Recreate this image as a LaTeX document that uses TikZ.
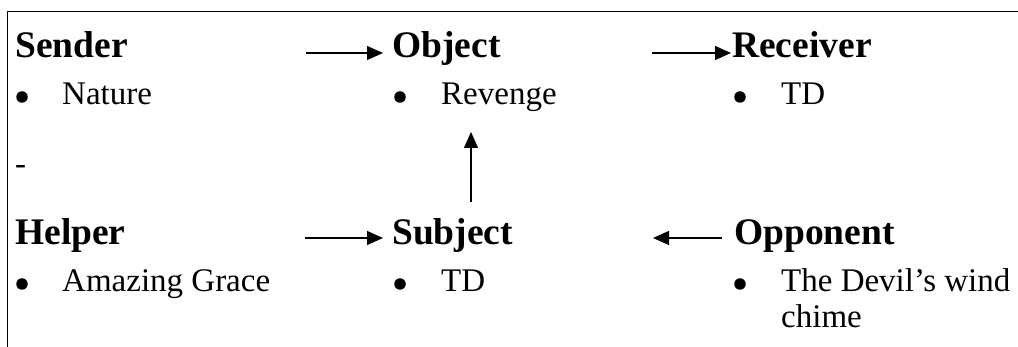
\documentclass[tikz,border=0pt]{standalone}
\usepackage{fontspec}
\setmainfont{Liberation Serif}
\usetikzlibrary{arrows.meta}

\begin{document}
\begin{tikzpicture}[x=1pt,y=-1pt,
        titulo/.style={anchor=base west,inner sep=0pt,font=\fontsize{37.5}{40}\selectfont\bfseries},
        texto/.style={anchor=base west,inner sep=0pt,font=\fontsize{33}{36}\selectfont},
        punto/.style={circle,fill=black,inner sep=0pt,minimum size=11.5pt},
        flecha/.style={line width=1.3pt,-{Triangle[length=16pt,width=14pt]}}]
        \useasboundingbox (0,0) rectangle (1018,347);

        % Marco
        \draw[line width=1.2pt] (1018,11.5) -- (7.5,11.5) -- (7.5,347);

        % Fila superior
        \node[titulo] (sender) at (15,58) {Sender};
        \node[punto] (bsender) at (22,97) {};
        \node[texto] (nature) at (62,105) {Nature};
        \node[titulo] (object) at (392,58) {Object};
        \node[punto] (bobject) at (400,97) {};
        \node[texto] (revenge) at (441,105) {Revenge};
        \node[titulo] (receiver) at (732,58) {Receiver};
        \node[punto] (breceiver) at (740,97) {};
        \node[texto] (tdr) at (781,105) {TD};

        % Guion suelto
        \node[texto] (guion) at (15,175) {-};

        % Fila inferior
        \node[titulo] (helper) at (15,245) {Helper};
        \node[punto] (bhelper) at (22,284) {};
        \node[texto] (grace) at (62,292) {Amazing Grace};
        \node[titulo] (subject) at (392,245) {Subject};
        \node[punto] (bsubject) at (400,284) {};
        \node[texto] (tds) at (441,292) {TD};
        \node[titulo] (opponent) at (734,245) {Opponent};
        \node[punto] (bopponent) at (740,284) {};
        \node[texto] (chime1) at (781,292) {The Devil’s wind};
        \node[texto] (chime2) at (781,328) {chime};

        % Extremos de las flechas
        \coordinate (s1) at (306,53);  \coordinate (o1) at (383,53);
        \coordinate (o2) at (652,53);  \coordinate (r1) at (731,53);
        \coordinate (h1) at (305,238); \coordinate (s2) at (383,238);
        \coordinate (p1) at (722,238); \coordinate (s3) at (653,238);
        \coordinate (v1) at (471,202); \coordinate (v2) at (471,132);

        % Flechas
        \draw[flecha] (s1) -- (o1);
        \draw[flecha] (o2) -- (r1);
        \draw[flecha] (h1) -- (s2);
        \draw[flecha] (p1) -- (s3);
        \draw[flecha] (v1) -- (v2);

    \end{tikzpicture}
\end{document}
